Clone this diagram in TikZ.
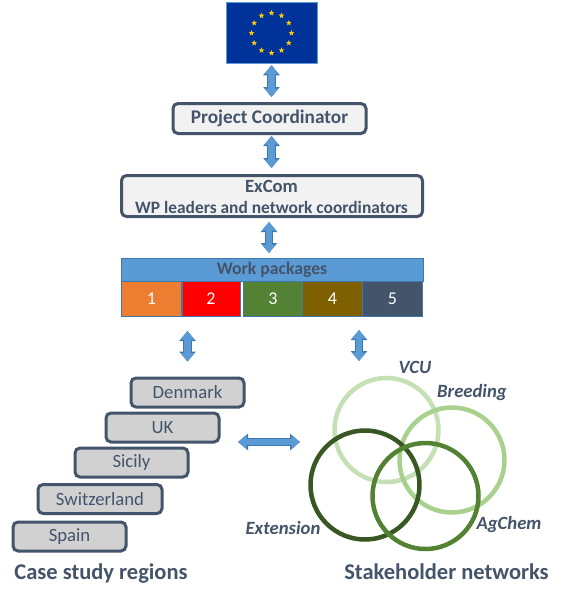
\documentclass[tikz,border=0pt]{standalone}
\usepackage{fontspec}
\setmainfont{Carlito}
\usetikzlibrary{arrows.meta,shapes.geometric,calc}
\definecolor{slate}{HTML}{44546A}
\definecolor{blockblue}{HTML}{5B9BD5}
\definecolor{blockedge}{HTML}{3F78AE}
\definecolor{flagblue}{HTML}{003399}
\definecolor{flagstar}{HTML}{FFCC00}
\tikzset{
  x=1pt,y=-1pt,
  framebox/.style={draw=slate,line width=3pt,rounded corners=5pt,inner sep=0pt,text=slate},
  lightbox/.style={framebox,fill=black!5},
  regionbox/.style={framebox,fill=black!18!white,font=\fontsize{18.7}{20}\selectfont,minimum height=29pt,minimum width=113pt},
  wpcell/.style={draw=blockedge,line width=1pt,inner sep=0pt,minimum height=35pt,text=white,font=\fontsize{18}{20}\selectfont},
  blockarrow/.style={line width=6.5pt,draw=blockblue,-,
    {Triangle[length=8.5pt,width=13.5pt,fill=blockblue]}-{Triangle[length=8.5pt,width=13.5pt,fill=blockblue]},
    preaction={draw=blockedge,line width=8.5pt,{Triangle[length=10pt,width=16pt]}-{Triangle[length=10pt,width=16pt]}}},
  ring/.style={circle,line width=4.5pt,inner sep=0pt,fill=none},
  netlabel/.style={text=slate,font=\bfseries\itshape\fontsize{18.7}{20}\selectfont,inner sep=0pt},
  headlabel/.style={text=slate,font=\bfseries\fontsize{22.5}{24}\selectfont,inner sep=0pt},
  boxtext/.style={text=slate,inner sep=0pt},
  eustar/.style={star,star points=5,star point ratio=2.4,fill=flagstar,inner sep=0pt,minimum size=6pt}
}
\begin{document}
\begin{tikzpicture}
\useasboundingbox[fill=white] (0,0) rectangle (562,600);
% flag
\node[draw=blockblue,line width=.5pt,fill=flagblue,minimum width=91pt,minimum height=61pt,inner sep=0pt] (flag) at (271.5,32.5) {};
\foreach \i in {1,...,12}
  \node[eustar] (star\i) at ($(271.5,33)+({30*\i}:20pt)$) {};
% boxes
\node[lightbox,minimum width=193pt,minimum height=30pt,font=\bfseries\fontsize{19.3}{21}\selectfont] (coord) at (269.5,118.5) {Project Coordinator};
\node[lightbox,minimum width=301pt,minimum height=41pt] (excom) at (272,196) {};
\node[boxtext,font=\bfseries\fontsize{18.7}{20}\selectfont] (excomA) at (271.5,186) {ExCom};
\node[boxtext,font=\bfseries\fontsize{17.4}{20}\selectfont] (excomB) at (271.5,207.5) {WP leaders and network coordinators};
% work packages
\node[fill=blockblue,draw=blockedge,line width=1pt,minimum width=302pt,minimum height=23pt,inner sep=0pt,text=slate,font=\bfseries\fontsize{17.7}{20}\selectfont] (wp) at (272,270) {Work packages};
\node[wpcell,fill={rgb,255:red,237;green,125;blue,49},minimum width=60pt] (w1) at (151.5,299) {1};
\node[wpcell,fill=red,minimum width=58pt] (w2) at (211,299) {2};
\node[wpcell,fill={rgb,255:red,84;green,130;blue,53},minimum width=59pt] (w3) at (273,299) {3};
\node[wpcell,fill={rgb,255:red,127;green,96;blue,0},minimum width=60pt] (w4) at (332.5,299) {4};
\node[wpcell,fill=slate,minimum width=60pt] (w5) at (392.5,299) {5};
% regions
\node[regionbox] (dk) at (187.5,392.5) {Denmark};
\node[regionbox] (uk) at (162.5,427.5) {UK};
\node[regionbox] (si) at (131.5,462.5) {Sicily};
\node[regionbox,minimum width=124pt,minimum height=29pt] (sw) at (100,499) {Switzerland};
\node[regionbox] (sp) at (69.5,536.5) {Spain};
\node[headlabel] (cs) at (101,574) {Case study regions};
% networks
\node[ring,draw={rgb,255:red,197;green,224;blue,180},minimum size=104pt] (vcu) at (386.5,430) {};
\node[ring,draw={rgb,255:red,169;green,209;blue,142},minimum size=105pt] (br) at (452,460) {};
\node[ring,draw={rgb,255:red,56;green,87;blue,35},minimum size=109pt] (ex) at (365,485) {};
\node[ring,draw={rgb,255:red,84;green,130;blue,53},minimum size=106pt] (ag) at (425.5,496) {};
\node[netlabel] (lv) at (415,367) {VCU};
\node[netlabel] (lb) at (472,393) {Breeding};
\node[netlabel] (la) at (509,525) {AgChem};
\node[netlabel] (le) at (283,528) {Extension};
\node[headlabel] (sn) at (446.5,572) {Stakeholder networks};
% connectors
\coordinate (a1) at (359,330);
\coordinate (a2) at (359,361);
\coordinate (h1) at (238,442);
\coordinate (h2) at (300,442);
\draw[blockarrow] ($(flag.south)+(0,2)$) -- ($(flag.south |- coord.north)+(0,-5)$);
\draw[blockarrow] ($(flag.south |- coord.south)+(0,1)$) -- ($(flag.south |- excom.north)+(0,-6)$);
\draw[blockarrow] ($(excom.south)+(-3,4)$) -- ($(excom.south |- wp.north)+(-3,-5)$);
\draw[blockarrow] ($(dk.north |- w2.south)+(0,14)$) -- ($(dk.north)+(0,-15)$);
\draw[blockarrow] (a1) -- (a2);
\draw[blockarrow] (h1) -- (h2);
\end{tikzpicture}
\end{document}
